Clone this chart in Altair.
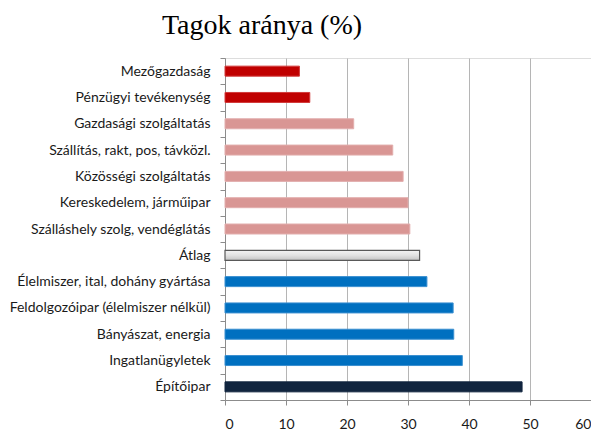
import altair as alt
import pandas as pd

categories = [
    "Mezőgazdaság",
    "Pénzügyi tevékenység",
    "Gazdasági szolgáltatás",
    "Szállítás, rakt, pos, távközl.",
    "Közösségi szolgáltatás",
    "Kereskedelem, járműipar",
    "Szálláshely szolg, vendéglátás",
    "Átlag",
    "Élelmiszer, ital, dohány gyártása",
    "Feldolgozóipar (élelmiszer nélkül)",
    "Bányászat, energia",
    "Ingatlanügyletek",
    "Építőipar",
]
values = [12.2, 13.9, 21.1, 27.5, 29.2, 30.0, 30.3, 31.9, 33.1, 37.4, 37.5, 38.9, 48.7]
groups = ["low", "low", "midlow", "midlow", "midlow", "midlow", "midlow",
          "avg", "high", "high", "high", "high", "top"]
x_ticks = [0, 10, 20, 30, 40, 50, 60]

df = pd.DataFrame({"cat": categories, "val": values, "grp": groups})

group_domain = ["low", "midlow", "avg", "high", "top"]
fill_range = ["#C00000", "#D99694", "#D9D9D9", "#0070C0", "#10243E"]
stroke_range = ["#D23A3A", "#E2AEAD", "#595959", "#3A8FD0", "#10243E"]

y_enc = alt.Y("cat:N", sort=categories, title=None,
              scale=alt.Scale(paddingInner=0.0, paddingOuter=0.0),
              axis=alt.Axis(labelFont="Lato", labelFontSize=14, labelColor="#1a1a1a",
                            labelPadding=10, domainColor="#8c8c8c", tickColor="#8c8c8c",
                            tickBand="extent", tickSize=5, grid=False, labelLimit=260))
x_enc = alt.X("val:Q", title=None,
              scale=alt.Scale(domain=[0, 60], nice=False),
              axis=alt.Axis(values=x_ticks, labelFont="Lato", labelFontSize=14,
                            labelColor="#1a1a1a", labelPadding=12,
                            domainColor="#8c8c8c", tickColor="#8c8c8c", tickSize=5,
                            grid=True, gridColor="#B5B5B5", gridWidth=1))

base = alt.Chart(df)

bars = base.transform_filter(alt.datum.grp != "avg").mark_bar(size=10, strokeWidth=1).encode(
    y=y_enc, x=x_enc,
    color=alt.Color("grp:N", scale=alt.Scale(domain=group_domain, range=fill_range), legend=None),
    stroke=alt.Stroke("grp:N", scale=alt.Scale(domain=group_domain, range=stroke_range), legend=None),
)

avg_bar = base.transform_filter(alt.datum.grp == "avg").mark_bar(
    size=10, strokeWidth=1.2, stroke="#595959",
    color=alt.Gradient(gradient="linear", x1=0, y1=0, x2=0, y2=1,
                       stops=[alt.GradientStop(color="#F4F4F4", offset=0),
                              alt.GradientStop(color="#E2E2E2", offset=0.5),
                              alt.GradientStop(color="#C4C4C4", offset=1)])
).encode(y=y_enc, x=x_enc)

chart = alt.layer(bars, avg_bar).properties(
    width=366, height=342,
    title=alt.TitleParams("Tagok aránya (%)", font="Liberation Serif", fontSize=28,
                          fontWeight="normal", color="#000000", anchor="middle",
                          dx=-146, offset=11),
    autosize=alt.AutoSizeParams(type="none"),
    padding={"left": 217, "top": 50, "right": 0, "bottom": 30},
).configure_view(stroke=None).configure(background="white")

chart.save("out.html", embed_options={"renderer": "svg", "actions": False})
